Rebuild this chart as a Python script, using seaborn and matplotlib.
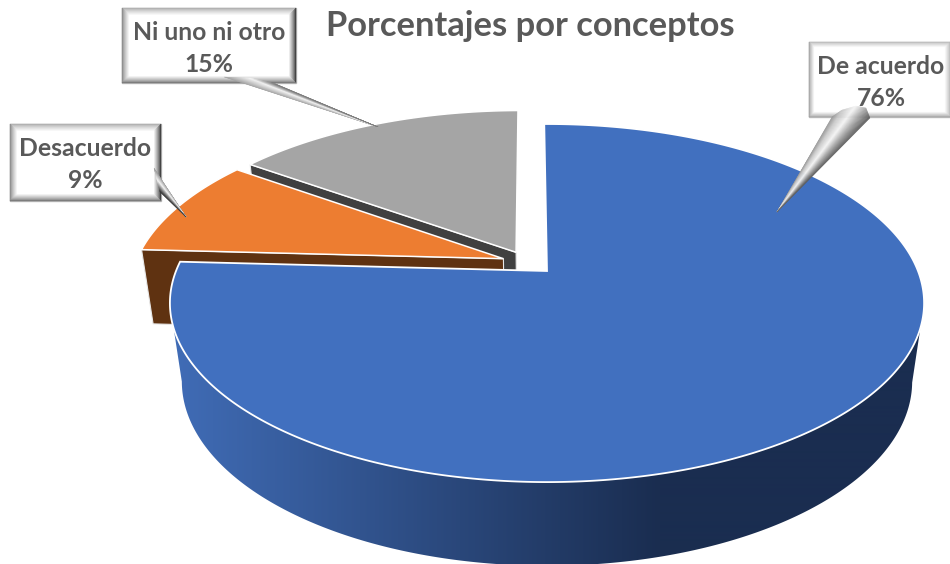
import numpy as np
import matplotlib
matplotlib.use("Agg")
import matplotlib.pyplot as plt
from matplotlib.patches import Polygon
import seaborn as sns

# ---- data ----
categories = ["De acuerdo", "Desacuerdo", "Ni uno ni otro"]
values = [76, 9, 15]
title = "Porcentajes por conceptos"
top_colors = ["#4170BF", "#ED7D31", "#A5A5A5"]
side_colors = ["#1A2D50", "#5F3211", "#404040"]

# ---- style / layout ----
sns.set_theme(style="white")
plt.rcParams['font.family'] = ['Lato', 'DejaVu Sans']
palette = sns.color_palette(top_colors)
offsets = [(0.0, 0.0), (-0.119, 0.072), (-0.085, 0.11)]
START = -0.5
CX, CY = 547.0, 271.0
A, B, K = 371.0, 173.3, 0.179
D, C = 77.5, 0.03
A2, B2, K2, D2 = 364.0, 175.6, 0.08, 95.6
TEXT = "#595959"

fig = plt.figure(figsize=(9.5, 5.64), dpi=100)
ax = fig.add_axes([0, 0, 1, 1])


def project(x, y, z=0.0):
    w = 1 + K * y + C * z
    return np.column_stack([CX + A * x / w, CY + (-B * y + D * z) / w])


def project_floor(x, y):
    w = 1 + K2 * y
    return np.column_stack([CX + A2 * x / w, CY + (-B2 * y + D2) / w])


def wedge_world(t0, t1, off, n=160):
    th = np.radians(np.linspace(t0, t1, n))
    return off[0], off[1], off[0] + np.sin(th), off[1] + np.cos(th)


def lerp(c0, c1, t):
    c0, c1 = np.array(c0), np.array(c1)
    return tuple((c0 + (c1 - c0) * np.clip(t, 0, 1)) / 255)


fractions = np.array(values) / np.sum(values) * 360
edges = START + np.concatenate([[0], np.cumsum(fractions)])

# back wedges: grey then orange, then blue on top
for i in [2, 1]:
    t0, t1 = edges[i], edges[i + 1]
    ox, oy, x, y = wedge_world(t0, t1, offsets[i])
    face = np.vstack([project(x[:1], y[:1]), project(np.array([ox]), np.array([oy])),
                      project(np.array([ox]), np.array([oy]), 1.0), project(x[:1], y[:1], 1.0)])
    ax.add_patch(Polygon(face, closed=True, fc=side_colors[i], ec="#E8E8E8", lw=0.8, zorder=2 + 2 * (2 - i)))
    top = np.vstack([project(np.array([ox]), np.array([oy])), project(x, y)])
    ax.add_patch(Polygon(top, closed=True, fc=palette[i], ec="white", lw=1.1, zorder=3 + 2 * (2 - i)))

# blue wedge: shaded rim, a horizontal gradient clipped to the visible side
ox, oy, x, y = wedge_world(edges[0], edges[1], offsets[0], 600)
th = np.degrees(np.arctan2(x, y)) % 360
top_vis = (th >= 100.3) & (th <= 259.7)
bot_vis = (th >= 94.6) & (th <= 265.4)
rim = np.vstack([project(x[top_vis], y[top_vis]), project_floor(x[bot_vis], y[bot_vis])[::-1]])
clip = Polygon(rim, closed=True, transform=ax.transData, fc="none", ec="none")
ax.add_patch(clip)
gx = np.arange(950) + 0.5
grad = np.array([[lerp((64, 108, 182), (26, 45, 80), (g - 175) / (660 - 175)) for g in gx]])
im = ax.imshow(grad, extent=(0, 950, 564, 0), aspect="auto", interpolation="bilinear", zorder=8)
im.set_clip_path(clip)
top = np.vstack([project(np.array([ox]), np.array([oy])), project(x, y)])
ax.add_patch(Polygon(top, closed=True, fc=palette[0], ec="white", lw=1.3, zorder=9))

ax.set_xlim(0, 950)
ax.set_ylim(564, 0)
ax.axis("off")


def bevel(x0, y0, x1, y1, w, top_c, left_c, right_c, bottom_c, z=12, n=8):
    ax.add_patch(Polygon([(x0, y0), (x1, y0), (x1, y1), (x0, y1)], closed=True, fc="white",
                         ec="#BDBDBD", lw=1.0, zorder=z))
    for k in range(n):
        a, b = k * w / n, (k + 1) * w / n
        f = k / (n - 1)
        strips = [
            ([(x0 + a, y0 + a), (x1 - a, y0 + a), (x1 - b, y0 + b), (x0 + b, y0 + b)], top_c),
            ([(x0 + a, y0 + a), (x0 + b, y0 + b), (x0 + b, y1 - b), (x0 + a, y1 - a)], left_c),
            ([(x1 - a, y0 + a), (x1 - b, y0 + b), (x1 - b, y1 - b), (x1 - a, y1 - a)], right_c),
            ([(x0 + a, y1 - a), (x1 - a, y1 - a), (x1 - b, y1 - b), (x0 + b, y1 - b)], bottom_c),
        ]
        for pts, c in strips:
            col = lerp(c, (255, 255, 255), f ** 0.8)
            ax.add_patch(Polygon(pts, closed=True, fc=col, ec=col, lw=0.3, zorder=z + 0.1))


def tail(base, tip, c_a, c_b, z=13, n=40):
    base = np.array(base, float)
    s = np.linspace(0, 1, len(base))
    ss = np.linspace(0, 1, n + 1)
    bx, by = np.interp(ss, s, base[:, 0]), np.interp(ss, s, base[:, 1])
    for j in range(n):
        t = (j + 0.5) / n
        col = lerp(c_a, (245, 245, 245), t / 0.5) if t < 0.5 else lerp((245, 245, 245), c_b, (t - 0.5) / 0.5)
        ax.add_patch(Polygon([(bx[j], by[j]), (bx[j + 1], by[j + 1]), tip], closed=True, fc=col, ec=col, lw=0.2, zorder=z))


boxes = {
    "Ni uno ni otro": dict(rect=(122, 8, 296, 83), w=8, c=((175, 175, 175), (140, 140, 140), (60, 60, 60), (120, 120, 120))),
    "Desacuerdo": dict(rect=(10, 124, 161, 201), w=8, c=((175, 175, 175), (140, 140, 140), (60, 60, 60), (120, 120, 120))),
    "De acuerdo": dict(rect=(809, 42, 950, 117), w=6, c=((185, 185, 185), (160, 160, 160), (185, 185, 185), (160, 160, 160))),
}
tails = {
    "Ni uno ni otro": dict(base=[(224, 77), (250, 78), (276, 84)], tip=(378, 127), a=(160, 160, 160), b=(120, 120, 120)),
    "Desacuerdo": dict(base=[(154, 168), (157, 180), (160, 192)], tip=(186, 217), a=(150, 150, 150), b=(50, 50, 50)),
    "De acuerdo": dict(base=[(832, 117), (842, 110), (856, 106), (866, 108), (870, 118)], tip=(777, 212), a=(150, 150, 150), b=(90, 90, 90)),
}
for cat, v in zip(categories, values):
    b = boxes[cat]
    x0, y0, x1, y1 = b["rect"]
    bevel(x0, y0, x1, y1, b["w"], *b["c"])
    t = tails[cat]
    tail(t["base"], t["tip"], t["a"], t["b"])
    xc = (x0 + x1) / 2 + (1.5 if cat == "De acuerdo" else 0)
    fs = 17.8
    ax.text(xc, y0 + 24.5, cat, ha="center", va="center", fontsize=fs, fontweight="bold", color=TEXT, zorder=15)
    ax.text(xc, y0 + 56.5, f"{v}%", ha="center", va="center", fontsize=fs, fontweight="bold", color=TEXT, zorder=15)

ax.text(530, 26, title, ha="center", va="center", fontsize=24.8, fontweight="bold", color=TEXT, zorder=15)
sns.despine(ax=ax, left=True, bottom=True)
fig.savefig("out.png", dpi=100, facecolor="white")
